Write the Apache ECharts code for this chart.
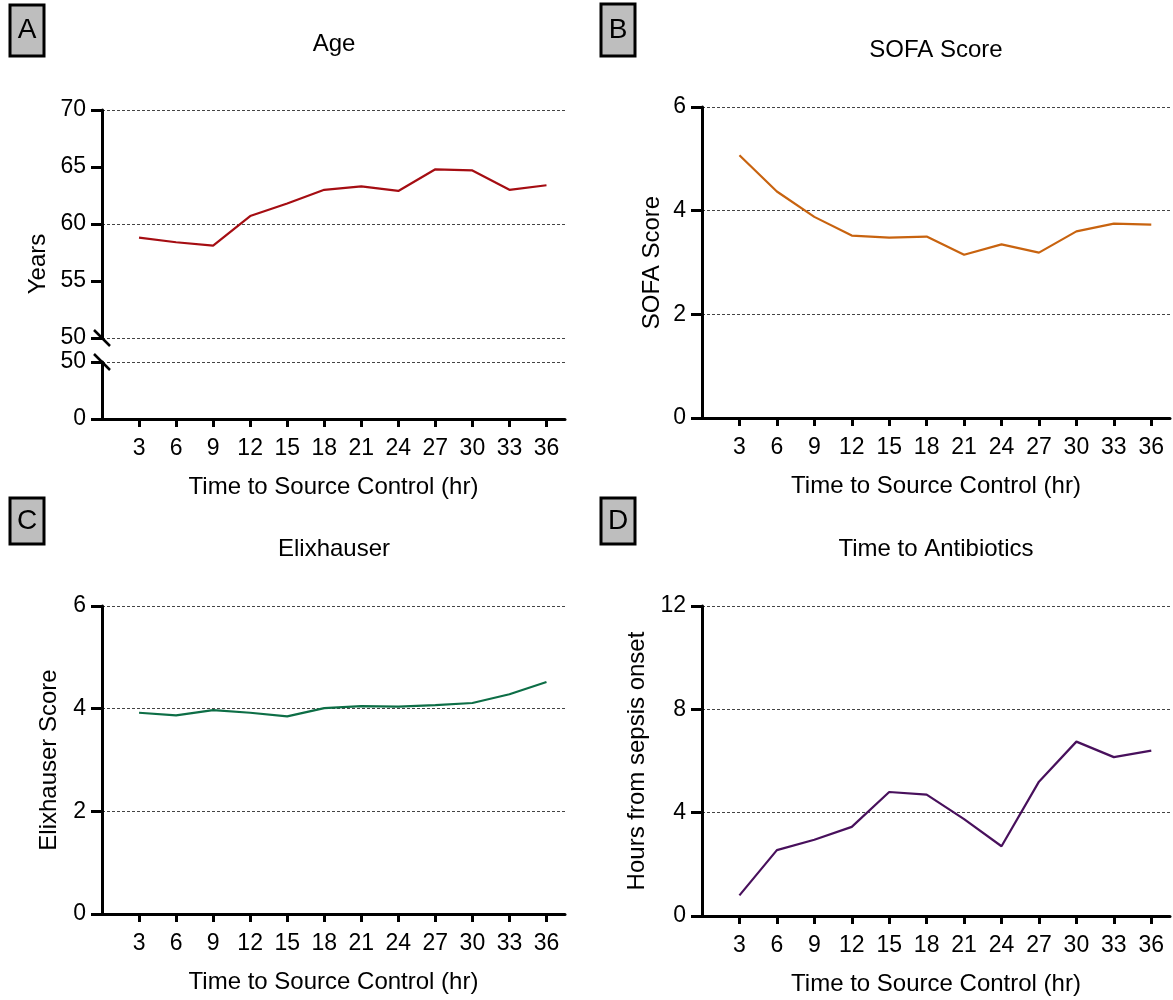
<!DOCTYPE html>
<html>
<head>
<meta charset="utf-8">
<script src="https://cdn.jsdelivr.net/npm/echarts@6/dist/echarts.min.js"></script>
<style>
  html, body { margin: 0; padding: 0; background: #fff; }
  #main { width: 1173px; height: 1000px; }
</style>
</head>
<body>
<div id="main"></div>
<script>
// data
const hours = [3, 6, 9, 12, 15, 18, 21, 24, 27, 30, 33, 36];
const ageYears = [58.8, 58.4, 58.1, 60.7, 61.8, 63.0, 63.3, 62.9, 64.8, 64.7, 63.0, 63.4];
const sofaScore = [5.07, 4.37, 3.88, 3.52, 3.48, 3.50, 3.15, 3.35, 3.19, 3.60, 3.75, 3.73];
const elixScore = [3.92, 3.87, 3.97, 3.92, 3.85, 4.01, 4.05, 4.04, 4.07, 4.11, 4.28, 4.52];
const abxHours = [0.8, 2.55, 2.95, 3.45, 4.8, 4.7, 3.75, 2.7, 5.2, 6.75, 6.15, 6.4];

const panelLetters = ['A', 'B', 'C', 'D'];
const panelTitles = ['Age', 'SOFA Score', 'Elixhauser', 'Time to Antibiotics'];
const yTitles = ['Years', 'SOFA Score', 'Elixhauser Score', 'Hours from sepsis onset'];
const xTitle = 'Time to Source Control (hr)';

const FONT = "'Liberation Sans', Arial, sans-serif";
const colors = ['#a50d12', '#c8630f', '#0d6e46', '#48105c'];

const pairs = (vals) => hours.map((h, i) => [h, vals[i]]);

const chart = echarts.init(document.getElementById('main'));

const gridLine = { show: true, lineStyle: { color: '#444', width: 1, type: [3, 2] } };
const axisLine = { show: true, onZero: false, lineStyle: { color: '#000', width: 3 } };

function xAxisFor(gridIndex, show) {
  return {
    type: 'value', gridIndex: gridIndex, min: 0, max: 37.5, show: show,
    axisLine: axisLine,
    axisTick: { show: true, length: 8, lineStyle: { width: 3, color: '#000' }, customValues: hours },
    axisLabel: { customValues: hours, color: '#000', fontSize: 23, fontFamily: FONT, margin: 18 },
    splitLine: { show: false },
    name: show ? xTitle : '', nameLocation: 'middle', nameGap: 56,
    nameTextStyle: { color: '#000', fontSize: 24, fontFamily: FONT }
  };
}

function yAxisFor(gridIndex, min, max, interval, name, gap) {
  return {
    type: 'value', gridIndex: gridIndex, min: min, max: max, interval: interval,
    axisLine: axisLine,
    axisTick: { show: true, length: 11, lineStyle: { width: 3, color: '#000' } },
    axisLabel: { color: '#000', fontSize: 23, fontFamily: FONT, margin: 16 },
    splitLine: gridLine,
    name: name, nameLocation: 'middle', nameGap: gap, nameRotate: 90,
    nameTextStyle: { color: '#000', fontSize: 24, fontFamily: FONT }
  };
}

const ageTop = yAxisFor(0, 50, 70, 5, '', 0);
ageTop.splitLine = { show: false };
// gridlines only every 10 years
const ageGrid = {
  type: 'value', gridIndex: 0, min: 50, max: 70, interval: 10,
  axisLine: { show: false }, axisTick: { show: false }, axisLabel: { show: false },
  splitLine: gridLine
};
const ageBottom = yAxisFor(1, 0, 50, 50, '', 0);

const option = {
  animation: false,
  backgroundColor: '#fff',
  grid: [
    { left: 102, top: 110, width: 463, height: 228 },
    { left: 102, top: 362, width: 463, height: 57 },
    { left: 702, top: 107, width: 468, height: 311 },
    { left: 102, top: 606, width: 463, height: 308 },
    { left: 702, top: 606, width: 468, height: 310 }
  ],
  xAxis: [
    xAxisFor(0, false),
    xAxisFor(1, true),
    xAxisFor(2, true),
    xAxisFor(3, true),
    xAxisFor(4, true)
  ],
  yAxis: [
    ageTop,
    ageGrid,
    ageBottom,
    yAxisFor(2, 0, 6, 2, yTitles[1], 38),
    yAxisFor(3, 0, 6, 2, yTitles[2], 41),
    yAxisFor(4, 0, 12, 4, yTitles[3], 53)
  ],
  series: [
    { type: 'line', name: panelTitles[0], xAxisIndex: 0, yAxisIndex: 0, data: pairs(ageYears) },
    { type: 'line', name: panelTitles[1], xAxisIndex: 2, yAxisIndex: 3, data: pairs(sofaScore) },
    { type: 'line', name: panelTitles[2], xAxisIndex: 3, yAxisIndex: 4, data: pairs(elixScore) },
    { type: 'line', name: panelTitles[3], xAxisIndex: 4, yAxisIndex: 5, data: pairs(abxHours) }
  ].map((s, i) => Object.assign(s, {
    showSymbol: false, symbol: 'none',
    lineStyle: { color: colors[i], width: 2.2 },
    itemStyle: { color: colors[i] }
  }))
};

chart.setOption(option);

// panel letters, titles, broken-axis marks
const boxes = [[10, 5, 34, 51], [601, 4, 34, 52], [10, 498, 34, 46], [601, 498, 34, 46]];
const titlePos = [[334, 44], [936, 50], [334, 549], [936, 549]];
const graphics = [];
panelLetters.forEach((letter, i) => {
  const b = boxes[i];
  graphics.push({
    type: 'rect', shape: { x: b[0], y: b[1], width: b[2], height: b[3] },
    style: { fill: '#bebebe', stroke: '#000', lineWidth: 3 }, z: 10
  });
  graphics.push({
    type: 'text', x: b[0] + b[2] / 2, y: b[1] + b[3] / 2,
    style: { text: letter, font: '28px ' + FONT, fill: '#000', textAlign: 'center', textVerticalAlign: 'middle' }, z: 11
  });
  graphics.push({
    type: 'text', x: titlePos[i][0], y: titlePos[i][1],
    style: { text: panelTitles[i], font: '24px ' + FONT, fill: '#000', textAlign: 'center', textVerticalAlign: 'middle' }, z: 11
  });
});
graphics.push({
  type: 'text', x: 38, y: 264, rotation: Math.PI / 2,
  style: { text: yTitles[0], font: '24px ' + FONT, fill: '#000', textAlign: 'center', textVerticalAlign: 'middle' }, z: 11
});
const brkTop = chart.convertToPixel({ xAxisIndex: 0, yAxisIndex: 0 }, [0, 50]);
const brkBot = chart.convertToPixel({ xAxisIndex: 1, yAxisIndex: 2 }, [0, 50]);
[brkTop, brkBot].forEach((p) => {
  graphics.push({
    type: 'line', shape: { x1: p[0] - 8, y1: p[1] - 8, x2: p[0] + 8, y2: p[1] + 8 },
    style: { stroke: '#000', lineWidth: 2.5 }, z: 12
  });
});
chart.setOption({ graphic: graphics });
</script>
</body>
</html>
